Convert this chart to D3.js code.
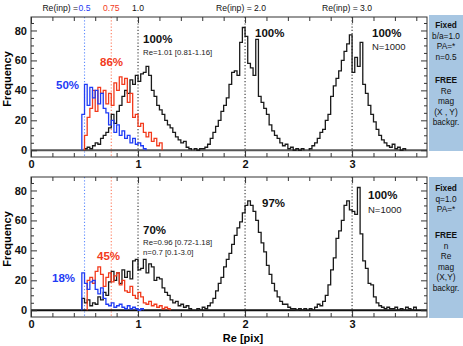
<!DOCTYPE html>
<html>
<head>
<meta charset="utf-8">
<script src="https://cdn.jsdelivr.net/npm/d3@7"></script>
<style>
body { margin: 0; background: #fff; }
svg { display: block; font-family: "Liberation Sans", Arial, sans-serif; }
</style>
</head>
<body>
<div id="chart"></div>
<script>
(function() {
	var width = 463, height = 346;

	// histogram bins are 0.025 pix wide, each array starts at its own Re value
	var binWidth = 0.025;
	var inputRe = [0.5, 0.75, 1.0, 2.0, 3.0];
	var xTicks = [0, 1, 2, 3];
	var yTicks = [0, 20, 40, 60, 80];

	// top panel: n fixed at 0.5
	var topBlueStart = 0.475;
	var topBlue = [24, 44, 30, 42, 35, 40, 31, 38, 28, 25, 17, 20, 12, 17, 10, 13, 8, 10, 5, 8, 4, 5, 3, 1];
	var topRedStart = 0.5;
	var topRed = [10, 22, 28, 40, 26, 42, 38, 40, 31, 38, 30, 45, 40, 49, 44, 48, 32, 38, 22, 24, 16, 18, 12, 9, 12, 6, 8, 3, 5];
	var topRe1Start = 0.5;
	var topRe1 = [1, 2, 1, 3, 5, 4, 8, 10, 12, 15, 24, 18, 26, 30, 36, 40, 38, 47, 44, 50, 46, 51, 52, 56, 50, 40, 36, 30, 27, 24, 20, 17, 15, 12, 9, 7, 5, 6, 2, 1];
	var topRe2Start = 1.525;
	var topRe2 = [1, 0, 1, 1, 2, 4, 8, 12, 16, 20, 26, 30, 35, 44, 52, 53, 50, 72, 82, 76, 58, 55, 50, 74, 36, 32, 28, 24, 17, 13, 10, 8, 5, 3, 4, 1, 2, 0, 1, 0, 1];
	var topRe3Start = 2.6;
	var topRe3 = [1, 3, 5, 8, 12, 14, 20, 24, 36, 43, 48, 53, 60, 66, 71, 77, 52, 62, 56, 72, 44, 38, 30, 24, 19, 14, 10, 7, 5, 3, 2, 4, 1, 2, 0, 1];

	// bottom panel: n free
	var botBlueStart = 0.475;
	var botBlue = [25, 18, 14, 19, 20, 14, 11, 15, 8, 4, 3, 5, 2, 3, 4, 2, 1, 3, 1, 2, 1, 0, 1];
	var botRedStart = 0.525;
	var botRed = [20, 22, 18, 26, 29, 24, 16, 22, 25, 19, 23, 25, 17, 20, 13, 12, 16, 10, 8, 12, 9, 5, 4, 6, 3, 4, 2, 3, 1, 2, 1];
	var botRe1Start = 0.475;
	var botRe1 = [8, 5, 7, 3, 5, 4, 9, 7, 12, 10, 19, 26, 20, 25, 18, 27, 22, 26, 21, 33, 34, 27, 28, 34, 25, 31, 29, 20, 22, 21, 15, 12, 10, 7, 5, 6, 3, 4, 2, 3, 1];
	var botRe2Start = 1.55;
	var botRe2 = [1, 0, 2, 1, 3, 5, 8, 13, 18, 22, 29, 34, 38, 44, 50, 55, 59, 65, 70, 73, 70, 66, 60, 52, 45, 39, 30, 24, 18, 13, 9, 6, 4, 4, 2, 1, 1, 0, 1, 0, 1];
	var botRe3Start = 2.6;
	var botRe3 = [1, 0, 2, 4, 3, 6, 10, 17, 27, 35, 48, 53, 60, 70, 73, 67, 66, 64, 82, 51, 33, 28, 18, 17, 9, 5, 3, 2, 1, 2, 1, 1, 2, 0, 1, 0, 2, 1, 0, 2];

	var blue = "#1f3cf5", red = "#f23a1c", black = "#1a1a1a";
	var dotColors = ["#5f8cff", "#ff7a5c", "#333", "#333", "#333"];

	var svg = d3.select("#chart")
		.append("svg")
		.attr("width", width)
		.attr("height", height)

	var x = d3.scaleLinear().domain([0, 3.7]).range([31, 427])
	var y = d3.scaleLinear().domain([-4.5, 89]).range([140, 0])

	var line = d3.line()
		.x(function(d) { return x(d[0]) })
		.y(function(d) { return y(d[1]) })
		.curve(d3.curveStepAfter)

	function steps(start, counts) {
		var pts = [[start, 0]];
		counts.forEach(function(c, i) { pts.push([start + i * binWidth, c]) });
		pts.push([start + counts.length * binWidth, 0]);
		return pts;
	}

	function panel(top, hists, zeroColor) {
		var g = svg.append("g").attr("transform", "translate(0," + top + ")")

		// dotted lines at the input sizes
		g.selectAll(".inp")
			.data(inputRe)
			.enter().append("line")
			.attr("x1", function(d) { return x(d) })
			.attr("x2", function(d) { return x(d) })
			.attr("y1", 0).attr("y2", 140)
			.attr("stroke", function(d, i) { return dotColors[i] })
			.attr("stroke-width", 1.1)
			.attr("stroke-dasharray", "1.2,2")

		g.append("line")
			.attr("x1", x(0)).attr("x2", x(3.7))
			.attr("y1", y(0)).attr("y2", y(0))
			.attr("stroke", zeroColor)
			.attr("stroke-width", 2)

		g.selectAll(".hist")
			.data(hists)
			.enter().append("path")
			.attr("d", function(d) { return line(steps(d.start, d.counts)) })
			.attr("fill", "none")
			.attr("stroke", function(d) { return d.color })
			.attr("stroke-width", 1.3)

		// frame and inward ticks
		g.append("rect")
			.attr("x", 31).attr("y", 0)
			.attr("width", 396).attr("height", 140)
			.attr("fill", "none").attr("stroke", "#333").attr("stroke-width", 1)

		var minorX = d3.range(0, 3.7, 0.2).filter(function(v) { return Math.abs(v - Math.round(v)) > 0.01 });
		var minorY = d3.range(5, 89, 5).filter(function(v) { return v % 20 != 0 });
		var fmt = d3.format("d");

		var axes = [
			g.append("g").attr("transform", "translate(0,140)").call(d3.axisBottom(x).tickValues(xTicks).tickSize(-6).tickPadding(3).tickFormat(fmt)),
			g.append("g").attr("transform", "translate(0,140)").call(d3.axisBottom(x).tickValues(minorX).tickSize(-4).tickFormat("")),
			g.append("g").call(d3.axisTop(x).tickValues(xTicks).tickSize(-6).tickFormat("")),
			g.append("g").call(d3.axisTop(x).tickValues(minorX).tickSize(-4).tickFormat("")),
			g.append("g").attr("transform", "translate(31,0)").call(d3.axisLeft(y).tickValues(yTicks).tickSize(-6).tickPadding(4).tickFormat(fmt)),
			g.append("g").attr("transform", "translate(31,0)").call(d3.axisLeft(y).tickValues(minorY).tickSize(-3).tickFormat("")),
			g.append("g").attr("transform", "translate(427,0)").call(d3.axisRight(y).tickValues(yTicks).tickSize(-6).tickFormat("")),
			g.append("g").attr("transform", "translate(427,0)").call(d3.axisRight(y).tickValues(minorY).tickSize(-3).tickFormat(""))
		];
		axes.forEach(function(a) {
			a.select(".domain").remove();
			a.selectAll("line").attr("stroke", "#333");
			a.selectAll("text")
				.attr("fill", "#111")
				.style("font-size", "11px")
				.style("font-weight", "bold")
				.style("font-family", "'Liberation Sans', Arial, sans-serif");
		});

		g.append("text")
			.attr("transform", "translate(11," + 62 + ") rotate(-90)")
			.attr("text-anchor", "middle")
			.style("font-size", "11px")
			.style("font-weight", "bold")
			.text("Frequency")

		return g;
	}

	panel(17, [
		{start: topRe1Start, counts: topRe1, color: black},
		{start: topRe2Start, counts: topRe2, color: black},
		{start: topRe3Start, counts: topRe3, color: black},
		{start: topRedStart, counts: topRed, color: red},
		{start: topBlueStart, counts: topBlue, color: blue}
	], "#555")

	panel(177, [
		{start: botRe1Start, counts: botRe1, color: black},
		{start: botRe2Start, counts: botRe2, color: black},
		{start: botRe3Start, counts: botRe3, color: black},
		{start: botRedStart, counts: botRed, color: red},
		{start: botBlueStart, counts: botBlue, color: blue}
	], "#111")

	// input size labels along the top
	var head = svg.append("g").style("font-size", "8.6px").attr("fill", "#111")
	head.append("text").attr("x", 78).attr("y", 11).attr("text-anchor", "end").text("Re(inp) =")
	head.append("text").attr("x", x(0.5)).attr("y", 11).attr("text-anchor", "middle").attr("fill", blue).text("0.5")
	head.append("text").attr("x", x(0.75)).attr("y", 11).attr("text-anchor", "middle").attr("fill", red).text("0.75")
	head.append("text").attr("x", x(1)).attr("y", 11).attr("text-anchor", "middle").text("1.0")
	head.append("text").attr("x", x(2) - 4).attr("y", 11).attr("text-anchor", "middle").text("Re(inp) = 2.0")
	head.append("text").attr("x", x(3) - 5).attr("y", 11).attr("text-anchor", "middle").text("Re(inp) = 3.0")

	function note(px, py, txt, color, size, bold) {
		svg.append("text")
			.attr("x", px).attr("y", py)
			.attr("fill", color)
			.style("font-size", size + "px")
			.style("font-weight", bold ? "bold" : "normal")
			.text(txt)
	}

	note(56, 89, "50%", blue, 11.5, true)
	note(100, 66, "86%", red, 11.5, true)
	note(143, 43, "100%", "#111", 11.5, true)
	note(143, 55, "Re=1.01 [0.81-1.16]", "#222", 7.8, false)
	note(255, 37, "100%", "#111", 11.5, true)
	note(372, 37, "100%", "#111", 11.5, true)
	note(372, 50, "N=1000", "#222", 9.5, false)

	note(52, 282, "18%", blue, 11.5, true)
	note(97, 260, "45%", red, 11.5, true)
	note(143, 234, "70%", "#111", 11.5, true)
	note(143, 245, "Re=0.96 [0.72-1.18]", "#222", 7.8, false)
	note(143, 255, "n=0.7 [0.1-3.0]", "#222", 7.8, false)
	note(262, 207, "97%", "#111", 11.5, true)
	note(368, 199, "100%", "#111", 11.5, true)
	note(368, 213, "N=1000", "#222", 9.5, false)

	svg.append("text")
		.attr("x", 243).attr("y", 342)
		.attr("text-anchor", "middle")
		.style("font-size", "11px")
		.style("font-weight", "bold")
		.text("Re [pix]")

	// parameter boxes on the right
	function box(top, h, lines) {
		svg.append("rect")
			.attr("x", 429).attr("y", top)
			.attr("width", 34).attr("height", h)
			.attr("fill", "#a7c6e2")
		svg.selectAll(null)
			.data(lines)
			.enter().append("text")
			.attr("x", 446)
			.attr("y", function(d) { return top + d[1] })
			.attr("text-anchor", "middle")
			.attr("fill", "#111")
			.style("font-size", "8.3px")
			.style("font-weight", function(d) { return d[2] ? "bold" : "normal" })
			.text(function(d) { return d[0] })
	}

	box(15, 136, [["Fixed", 13, true], ["b/a=1.0", 23.5], ["PA=*", 34], ["n=0.5", 44.5],
		["FREE", 68, true], ["Re", 78.5], ["mag", 89], ["(X , Y)", 99.5], ["backgr.", 110]])
	box(177, 141, [["Fixed", 14, true], ["q=1.0", 24.5], ["PA=*", 35],
		["FREE", 61, true], ["n", 71.5], ["Re", 82], ["mag", 92.5], ["(X,Y)", 103], ["backgr.", 113.5]])
})();
</script>
</body>
</html>
